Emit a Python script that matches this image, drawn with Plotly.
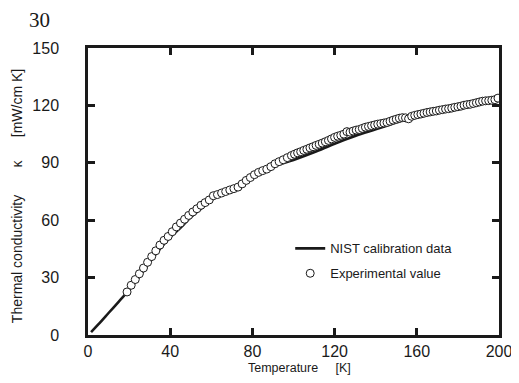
import plotly.graph_objects as go

# Experimental values (open circles): temperature [K] and thermal conductivity [mW/cm K]
exp_T = [19, 21, 23, 25, 27, 29, 31, 33, 35, 37, 39, 41, 43, 45, 47, 49, 51, 53, 55, 57,
         59, 61, 63, 65, 67, 69, 71, 73, 75, 77, 79, 81, 83, 85, 87, 89, 91, 93, 95, 97, 99,
         100.5, 102, 103.5, 105, 106.5, 108, 109.5, 111, 112.5, 114, 115.5, 117, 118.5, 120,
         121.5, 123, 124.5, 126, 127.5, 129, 130.5, 132, 133.5, 135, 136.5, 138, 139.5, 141,
         142.5, 144, 145.5, 147, 148.5, 150, 151.5, 153, 154.5, 156, 157.5, 159, 160.5, 162,
         163.5, 165, 166.5, 168, 169.5, 171, 172.5, 174, 175.5, 177, 178.5, 180, 181.5, 183,
         184.5, 186, 187.5, 189, 190.5, 192, 193.5, 195, 196.5, 198, 199.5]
exp_k = [22.5, 26, 29, 32, 35, 38, 41, 44, 47, 49.5, 51.5, 54, 56.5, 58.5, 60.5, 62.5, 64.3,
         66, 67.8, 69.2, 70.6, 72.8, 73.4, 74.2, 75, 75.8, 76.5, 77.3, 79, 80.8, 82.3, 83.8,
         85, 85.9, 86.7, 88, 89.5, 90.6, 91.6, 92.7, 93.8,
         94.5, 95.2, 95.8, 96.5, 97.1, 97.8, 98.4, 99.1, 99.7, 100.3, 101, 101.7, 102.5, 103.3,
         103.9, 104.4, 105, 106.3, 106, 106.6, 107.1, 107.4, 108, 108.6, 109, 109.4, 109.8,
         110.2, 110.5, 110.8, 111.1, 111.7, 112.3, 112.8, 113.3, 113.6, 113.5, 113.0, 114.3,
         114.8, 115.2, 115.5, 115.9, 116.3, 116.6, 116.9, 117.1, 117.5, 117.8, 118.1, 118.3,
         118.6, 119, 119.3, 119.6, 120.1, 120.4, 120.6, 121, 121.4, 121.8, 122.2, 122.4, 122.5,
         122.7, 123, 123.8]

# NIST calibration data (solid line)
nist_T = [1.5, 5, 10, 15, 20, 25, 30, 35, 40, 45, 50, 55, 60, 65, 70, 75, 80, 90, 100, 110,
          120, 130, 140, 150, 160, 170, 180, 190, 200]
nist_k = [1.5, 5.5, 11.5, 17.5, 23.5, 30.5, 38, 45, 51, 56, 61.5, 66, 70.5, 73.5, 76, 78.5,
          82, 88, 91.5, 95.5, 100, 104, 107.5, 111, 114.5, 116.5, 118.5, 121, 123]

x_ticks = [0, 40, 80, 120, 160, 200]
y_ticks = [0, 30, 60, 90, 120, 150]

FONT = "Liberation Sans, Arial, sans-serif"
INK = "#1a1a1a"
NB = "\u00a0"

fig = go.Figure()
fig.add_trace(go.Scatter(
    x=nist_T, y=nist_k, mode="lines", name="NIST calibration data", legendgroup="a",
    line=dict(color=INK, width=2.6), line_shape="spline"))
fig.add_trace(go.Scatter(
    x=exp_T, y=exp_k, mode="markers", name="Experimental value", legendgroup="b",
    marker=dict(symbol="circle", size=8, color="white",
                line=dict(color=INK, width=1))))

axis_common = dict(
    showline=True, linecolor=INK, linewidth=2.5, mirror="ticks",
    ticks="inside", ticklen=7, tickwidth=2.5, tickcolor=INK,
    showgrid=False, zeroline=False,
    tickfont=dict(family=FONT, size=16, color=INK),
)

fig.update_xaxes(range=[0, 200], tickvals=x_ticks, ticktext=[str(v) for v in x_ticks],
                 ticklabelstandoff=0, ticklabelshift=0, ticklabeloverflow="allow",
                 **axis_common)
fig.update_yaxes(range=[0, 150], tickvals=y_ticks, ticktext=[str(v) for v in y_ticks],
                 ticklabelstandoff=23, **axis_common)

# Axis titles
fig.add_annotation(text="Temperature" + NB * 5 + "[K]", xref="paper", yref="paper",
                   x=0.5153, y=-0.1143, xanchor="center", yanchor="middle", showarrow=False,
                   font=dict(family=FONT, size=12.5, color=INK))
fig.add_annotation(text="Thermal conductivity" + NB * 7 + "\u03ba" + NB * 6 + "[mW/cm K]",
                   xref="paper", yref="paper", textangle=-90,
                   x=-0.1712, y=0.4826, xanchor="center", yanchor="middle", showarrow=False,
                   font=dict(family=FONT, size=14, color=INK))

# Page number
fig.add_annotation(text="30", xref="paper", yref="paper", x=-0.1182, y=1.0976,
                   xanchor="center", yanchor="middle", showarrow=False,
                   font=dict(family="Liberation Serif, serif", size=21, color=INK))

fig.update_layout(
    width=516, height=367,
    margin=dict(l=80, r=13, t=40, b=40),
    plot_bgcolor="white", paper_bgcolor="white",
    showlegend=True,
    legend=dict(x=0.492, y=0.354, xanchor="left", yanchor="top",
                bgcolor="rgba(0,0,0,0)", borderwidth=0,
                font=dict(family=FONT, size=13, color=INK),
                itemwidth=30, traceorder="grouped", tracegroupgap=5),
)

fig.write_html("out.html")
